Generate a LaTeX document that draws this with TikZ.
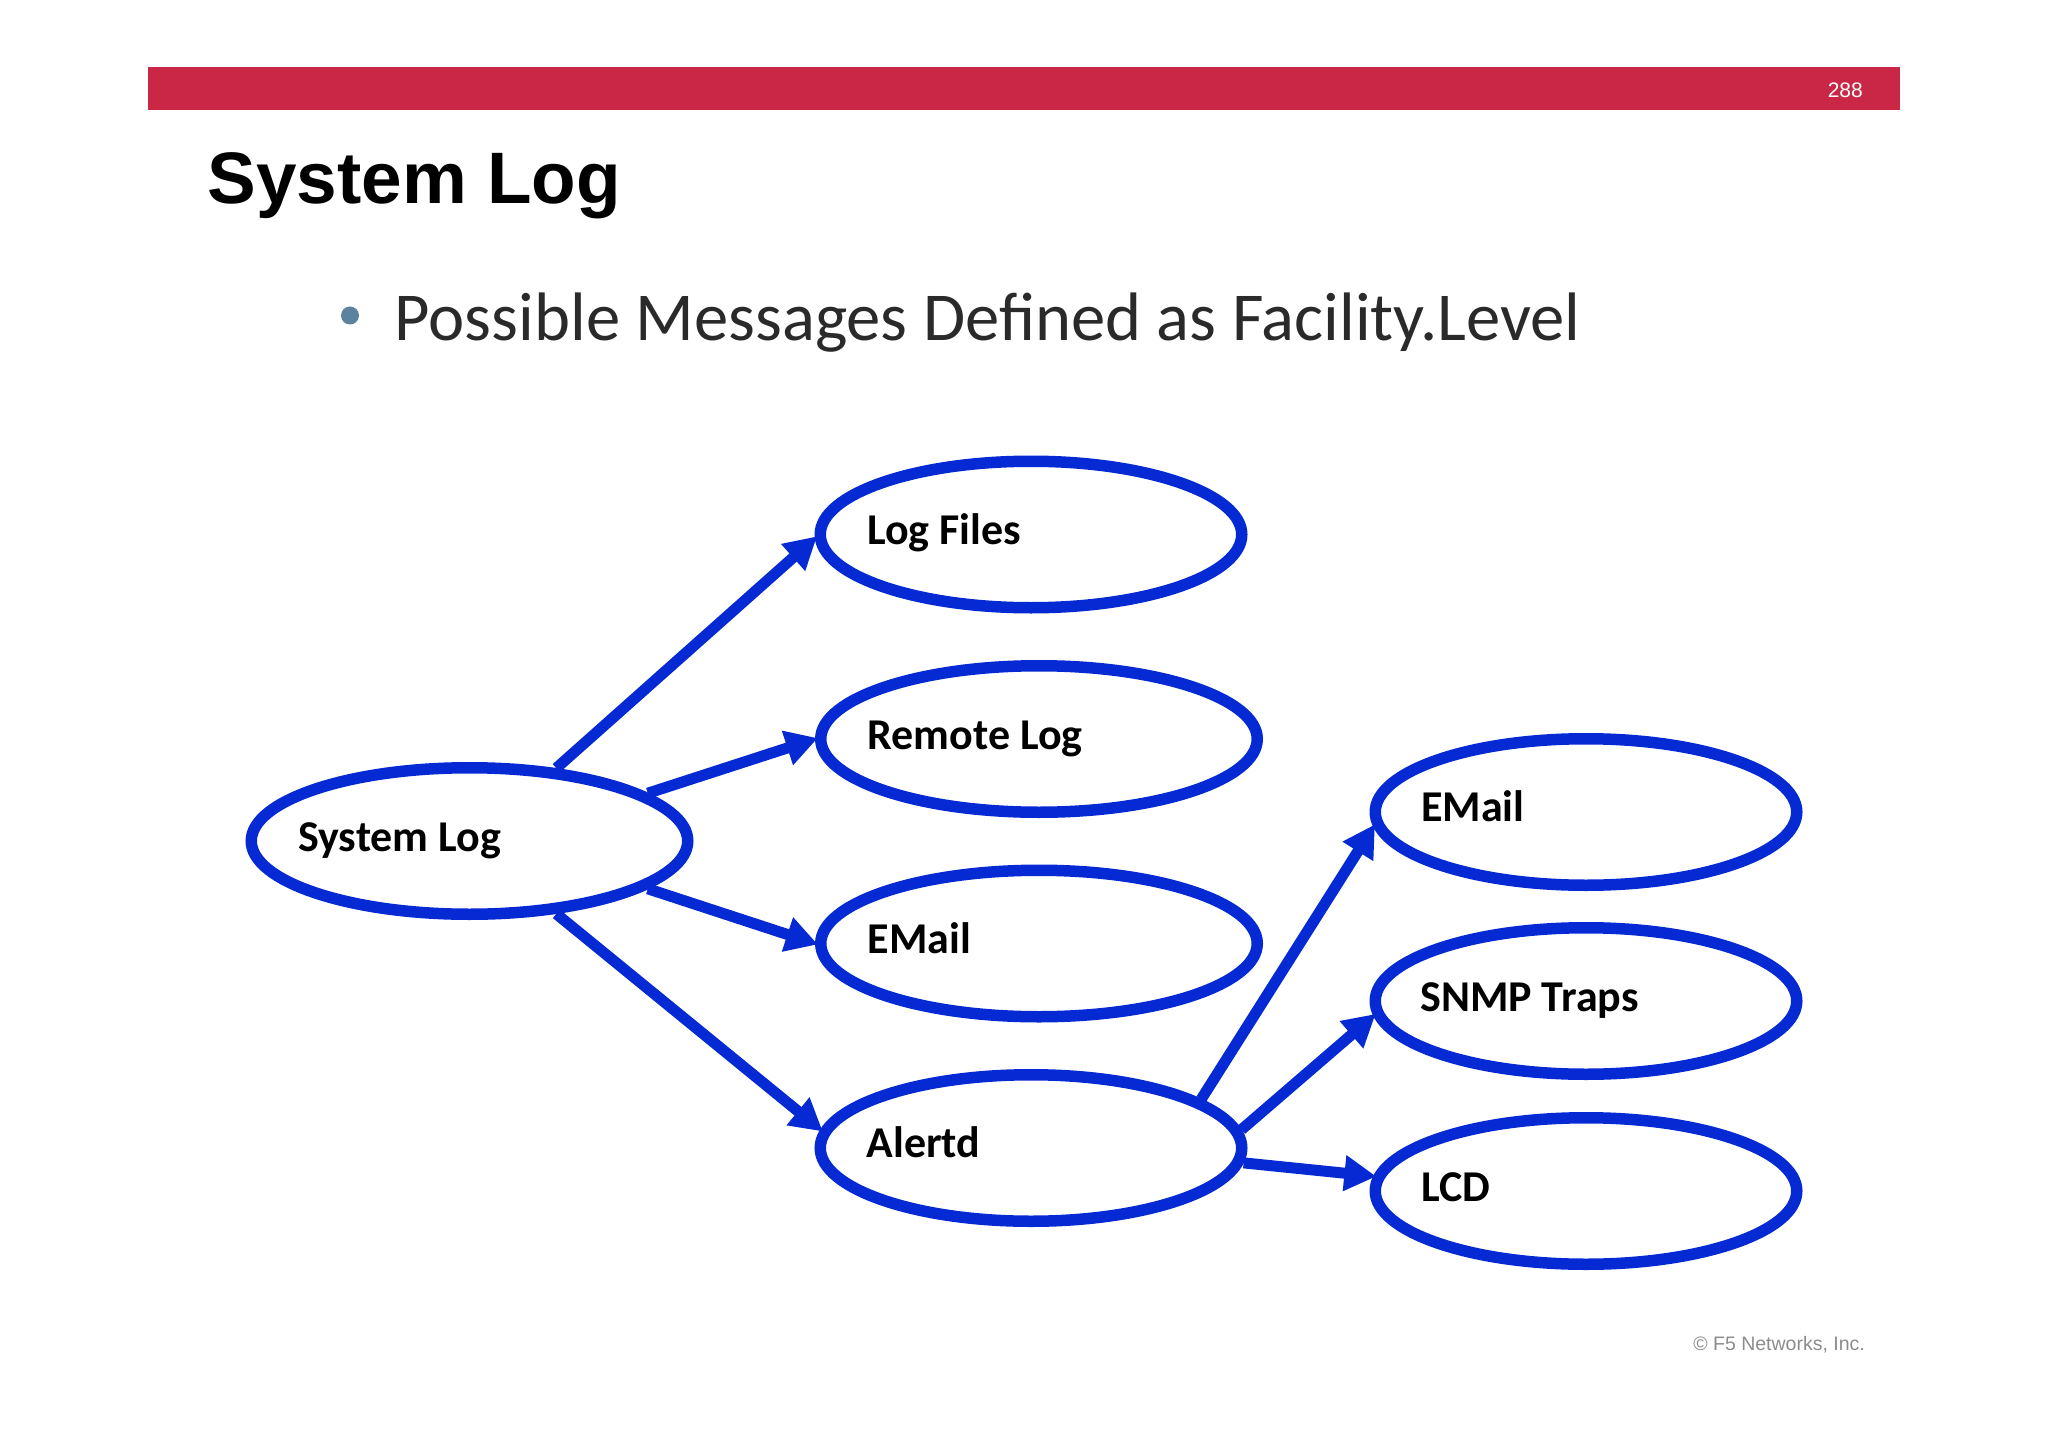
\documentclass[tikz,border=0pt]{standalone}
\usepackage{fontspec}
\setmainfont{Carlito}
\newfontfamily\arialfont{Liberation Sans}
\usetikzlibrary{shapes.geometric,arrows.meta}
\definecolor{barred}{HTML}{C92745}
\definecolor{nodeblue}{HTML}{0529D2}
\definecolor{bodyink}{HTML}{2A2A2A}
\definecolor{bulletblue}{HTML}{5B83A0}
\definecolor{footgray}{HTML}{8C8C8C}
\tikzset{
  oval/.style={ellipse,draw=nodeblue,line width=11.5pt,inner sep=0pt,outer sep=5.75pt,minimum height=146.5pt},
  ovalsmall/.style={oval,minimum width=421.5pt},
  ovalbig/.style={oval,minimum width=436.5pt},
  oval label/.style={anchor=base west,inner sep=0pt,font=\fontsize{44}{50}\selectfont\bfseries,text=black},
  link/.style={draw=nodeblue,line width=11pt,shorten >=-3pt,-{Triangle[length=32pt,width=34pt]}},
  pagetext/.style={inner sep=0pt,anchor=base west}
}
\begin{document}
\begin{tikzpicture}[x=1pt,y=-1pt]
\useasboundingbox (0,0) rectangle (2048,1447);
\fill[white] (0,0) rectangle (2048,1447);
\fill[barred] (148,67) rectangle (1900,110);
\node[inner sep=0pt,anchor=base east,text=white,font=\arialfont\fontsize{21}{25}\selectfont] (pagenum) at (1863,97.5) {288};
\node[pagetext,font=\arialfont\fontsize{72.9}{84}\selectfont\bfseries] (title) at (207.5,204) {System Log};
\fill[bulletblue] (350,315.5) ellipse (9 and 9);
\node[pagetext,text=bodyink,font=\fontsize{68.6}{78}\selectfont] (body) at (394.5,340.5) {Possible Messages Defined as Facility.Level};
\node[inner sep=0pt,anchor=base east,text=footgray,font=\arialfont\fontsize{19.5}{24}\selectfont] (foot) at (1865,1350) {© F5 Networks, Inc.};

\node[ovalbig] (sys) at (469.5,841) {};
\node[ovalsmall] (log) at (1031,534.5) {};
\node[ovalbig] (remote) at (1039,739) {};
\node[ovalbig] (mail) at (1039,943.5) {};
\node[ovalsmall] (alert) at (1031,1148) {};
\node[ovalsmall] (rmail) at (1586,812) {};
\node[ovalsmall] (snmp) at (1586,1001) {};
\node[ovalsmall] (lcd) at (1586,1191) {};

\node[oval label] (tsys) at (298,851) {System Log};
\node[oval label] (tlog) at (867,544) {Log Files};
\node[oval label] (tremote) at (867.5,749) {Remote Log};
\node[oval label] (tmail) at (867.5,953) {EMail};
\node[oval label] (talert) at (866.5,1157) {Alertd};
\node[oval label] (trmail) at (1421,821) {EMail};
\node[oval label] (tsnmp) at (1420,1011) {SNMP Traps};
\node[oval label] (tlcd) at (1421,1201) {LCD};

\draw[link] (sys.40.3) -- (log.181);
\draw[link] (sys.15.7) -- (remote.180);
\draw[link] (sys.345) -- (mail.180);
\draw[link] (sys.320.5) -- (alert.175.4);
\draw[link] (alert.16.5) -- (rmail.184.3);
\draw[link] (alert.5.5) -- (snmp.184.3);
\draw[link] (alert.356.2) -- (lcd.176.5);
\end{tikzpicture}
\end{document}
